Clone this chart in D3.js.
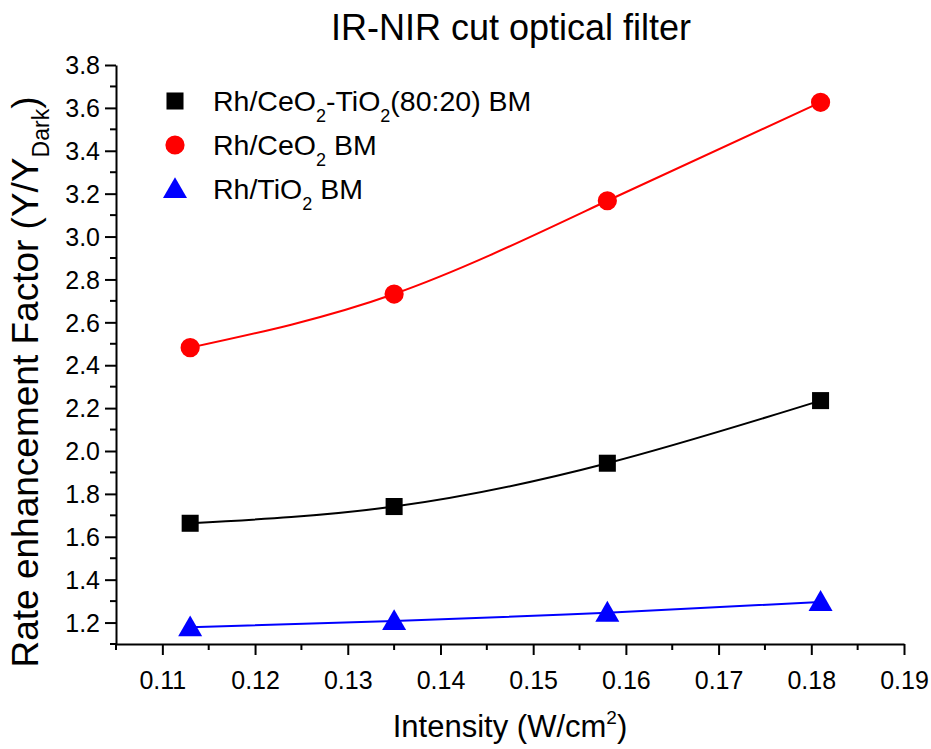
<!DOCTYPE html>
<html>
<head>
<meta charset="utf-8">
<script src="https://cdn.jsdelivr.net/npm/d3@7"></script>
<style>
  html, body { margin: 0; padding: 0; background: #fff; }
  svg { display: block; font-family: Arial, "Liberation Sans", sans-serif; }
</style>
</head>
<body>
<svg id="chart" width="931" height="749"></svg>
<script>
// Light intensity (W/cm²)
const intensity = [0.113, 0.135, 0.158, 0.181];

// Rate enhancement factor Y/Y_Dark per catalyst
const rhCeTi = [1.663, 1.741, 1.943, 2.235];
const rhCeO2 = [2.482, 2.732, 3.167, 3.626];
const rhTiO2 = [1.178, 1.207, 1.246, 1.296];

// Axis ticks
const xTicks = [0.11, 0.12, 0.13, 0.14, 0.15, 0.16, 0.17, 0.18, 0.19];
const xTickLabels = ["0.11", "0.12", "0.13", "0.14", "0.15", "0.16", "0.17", "0.18", "0.19"];
const xMinor = [0.105, 0.115, 0.125, 0.135, 0.145, 0.155, 0.165, 0.175, 0.185];
const yTicks = [1.2, 1.4, 1.6, 1.8, 2.0, 2.2, 2.4, 2.6, 2.8, 3.0, 3.2, 3.4, 3.6, 3.8];
const yTickLabels = ["1.2", "1.4", "1.6", "1.8", "2.0", "2.2", "2.4", "2.6", "2.8", "3.0", "3.2", "3.4", "3.6", "3.8"];
const yMinor = [1.1, 1.3, 1.5, 1.7, 1.9, 2.1, 2.3, 2.5, 2.7, 2.9, 3.1, 3.3, 3.5, 3.7];

const series = [
  { name: ["Rh/CeO", "2", "-TiO", "2", "(80:20) BM"], values: rhCeTi, color: "#000000", symbol: d3.symbolSquare, size: 290 },
  { name: ["Rh/CeO", "2", " BM"], values: rhCeO2, color: "#ff0000", symbol: d3.symbolCircle, size: 290 },
  { name: ["Rh/TiO", "2", " BM"], values: rhTiO2, color: "#0000ff", symbol: d3.symbolTriangle, size: 250 }
];

const svg = d3.select("#chart");
const x = d3.scaleLinear().domain([0.105, 0.19]).range([116, 904]);
const y = d3.scaleLinear().domain([1.1, 3.8]).range([644, 65]);

// Axes
const axisColor = "#000";
const xAxisG = svg.append("g").attr("transform", `translate(0,${y(1.1)})`);
xAxisG.call(d3.axisBottom(x).tickValues(xTicks).tickSize(11).tickSizeOuter(0)
  .tickFormat((d, i) => xTickLabels[i]).tickPadding(16));
xAxisG.call(g => g.append("g").selectAll("line").data(xMinor).join("line")
  .attr("x1", d => x(d)).attr("x2", d => x(d)).attr("y1", 0).attr("y2", 6));

const yAxisG = svg.append("g").attr("transform", `translate(${x(0.105)},0)`);
yAxisG.call(d3.axisLeft(y).tickValues(yTicks).tickSize(11).tickSizeOuter(0)
  .tickFormat((d, i) => yTickLabels[i]).tickPadding(5));
yAxisG.call(g => g.append("g").selectAll("line").data(yMinor).join("line")
  .attr("x1", 0).attr("x2", -6).attr("y1", d => y(d)).attr("y2", d => y(d)));

[xAxisG, yAxisG].forEach(g => {
  g.select(".domain").attr("stroke", axisColor).attr("stroke-width", 2);
  g.selectAll("line").attr("stroke", axisColor).attr("stroke-width", 2);
  g.selectAll("text").attr("font-size", 25).attr("fill", "#000")
    .attr("font-family", "Arial, 'Liberation Sans', sans-serif");
});
yAxisG.selectAll(".tick text").attr("dy", "0.35em");

// Fitted curves and markers
const line = d3.line().x((d, i) => x(intensity[i])).y(d => y(d)).curve(d3.curveNatural);
series.forEach(s => {
  svg.append("path").attr("d", line(s.values)).attr("fill", "none")
    .attr("stroke", s.color).attr("stroke-width", 2);
  svg.append("g").selectAll("path").data(s.values).join("path")
    .attr("transform", (d, i) => `translate(${x(intensity[i])},${y(d) + (s.symbol === d3.symbolTriangle ? 2 : 0)})`)
    .attr("d", d3.symbol(s.symbol, s.size))
    .attr("fill", s.color);
});

// Legend
const legendRows = [101, 145, 189];
series.forEach((s, k) => {
  const ly = legendRows[k];
  svg.append("path")
    .attr("transform", `translate(175,${ly + (s.symbol === d3.symbolTriangle ? 2 : 0)})`)
    .attr("d", d3.symbol(s.symbol, s.size)).attr("fill", s.color);
  const t = svg.append("text").attr("x", 213).attr("y", ly + 10)
    .attr("font-size", 28.5).attr("fill", "#000");
  s.name.forEach((part, j) => {
    const sub = part === "2";
    t.append("tspan").text(part)
      .attr("font-size", sub ? 18 : 28.5)
      .attr("dy", sub ? 11 : (j > 0 ? -11 : 0));
  });
});

// Titles
svg.append("text").attr("x", 511).attr("y", 40).attr("text-anchor", "middle")
  .attr("font-size", 36).attr("fill", "#000").text("IR-NIR cut optical filter");

const xt = svg.append("text").attr("x", 510).attr("y", 737).attr("text-anchor", "middle")
  .attr("font-size", 31).attr("fill", "#000");
xt.append("tspan").text("Intensity (W/cm");
xt.append("tspan").text("2").attr("font-size", 19).attr("dy", -13);
xt.append("tspan").text(")").attr("dy", 13);

const yt = svg.append("text").attr("transform", "translate(38,382) rotate(-90)")
  .attr("text-anchor", "middle").attr("font-size", 37).attr("fill", "#000");
yt.append("tspan").text("Rate enhancement Factor (Y/Y");
yt.append("tspan").text("Dark").attr("font-size", 23).attr("dy", 11);
yt.append("tspan").text(")").attr("dy", -11);
</script>
</body>
</html>
